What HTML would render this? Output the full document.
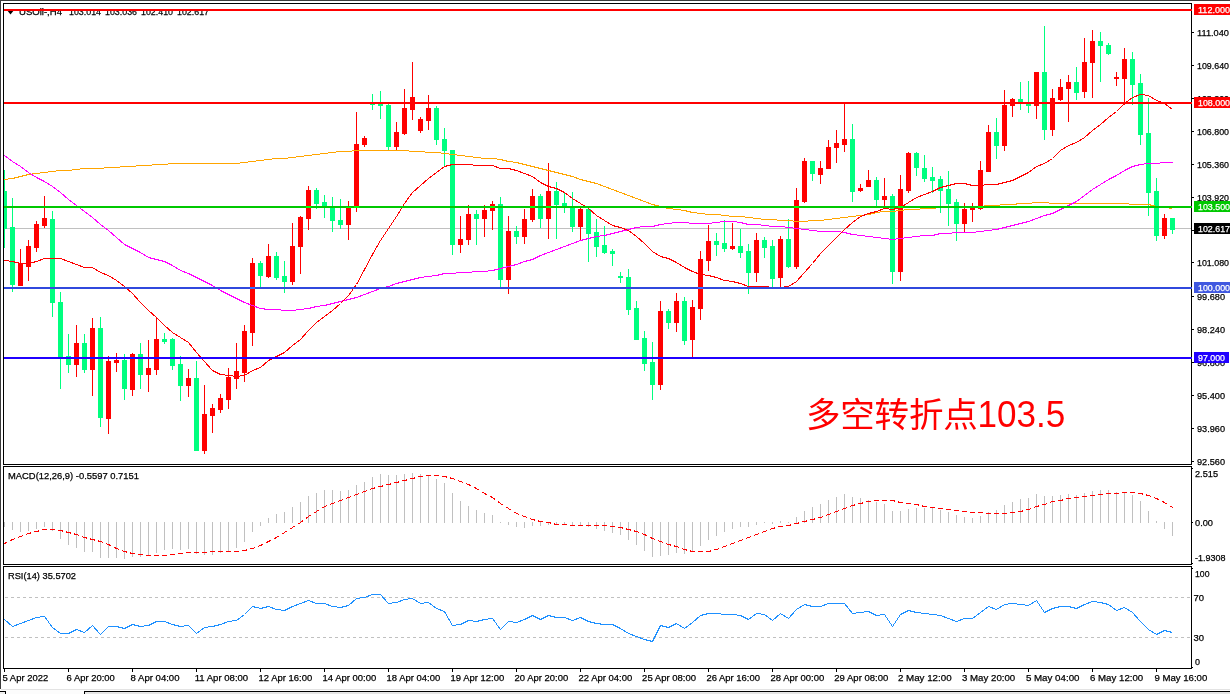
<!DOCTYPE html>
<html><head><meta charset="utf-8"><style>html,body{margin:0;padding:0;background:#fff;width:1230px;height:694px;overflow:hidden}svg{display:block}</style></head>
<body><svg width="1230" height="694" viewBox="0 0 1230 694">
<rect x="0" y="0" width="1230" height="694" fill="#ffffff"/>
<g shape-rendering="crispEdges">
<rect x="0" y="0" width="1230" height="1" fill="#3c3c3c"/>
<rect x="0" y="0" width="1" height="689" fill="#3c3c3c"/>
<rect x="3" y="3" width="1189" height="1" fill="#000"/>
<rect x="3" y="464" width="1189" height="1" fill="#000"/>
<rect x="3" y="3" width="1" height="462" fill="#000"/>
<rect x="1191" y="3" width="1" height="462" fill="#000"/>
<rect x="3" y="466" width="1189" height="1" fill="#000"/>
<rect x="3" y="564" width="1189" height="1" fill="#000"/>
<rect x="3" y="466" width="1" height="99" fill="#000"/>
<rect x="1191" y="466" width="1" height="99" fill="#000"/>
<rect x="3" y="566" width="1189" height="1" fill="#000"/>
<rect x="3" y="668" width="1189" height="1" fill="#000"/>
<rect x="3" y="566" width="1" height="103" fill="#000"/>
<rect x="1191" y="566" width="1" height="103" fill="#000"/>
<rect x="1" y="689" width="1229" height="1" fill="#e3e3e3"/>
<rect x="1" y="690" width="1229" height="4" fill="#fcfcfc"/>
<rect x="84" y="691" width="1146" height="1" fill="#000"/>
<rect x="84" y="691" width="1" height="3" fill="#000"/>
<rect x="85" y="692" width="1145" height="2" fill="#e6e6e6"/>
<rect x="0" y="691" width="6" height="3" fill="#f0f0f0"/>
<rect x="0" y="691" width="6" height="1" fill="#000"/>
<rect x="5" y="691" width="1" height="3" fill="#000"/>
</g>
<clipPath id="cm"><rect x="4" y="4" width="1188" height="460"/></clipPath>
<clipPath id="cmacd"><rect x="4" y="467" width="1187" height="97"/></clipPath>
<clipPath id="crsi"><rect x="4" y="567" width="1187" height="101"/></clipPath>
<g clip-path="url(#cm)" shape-rendering="crispEdges">
<rect x="4" y="228" width="1187" height="1" fill="#c0c0c0"/>
<rect x="4" y="170" width="1" height="78" fill="#00FF7F"/>
<rect x="2" y="191" width="5" height="38" fill="#00FF7F"/>
<rect x="12" y="198" width="1" height="94" fill="#00FF7F"/>
<rect x="10" y="227" width="5" height="58" fill="#00FF7F"/>
<rect x="20" y="249" width="1" height="37" fill="#FF0000"/>
<rect x="18" y="264" width="5" height="22" fill="#FF0000"/>
<rect x="28" y="240" width="1" height="41" fill="#FF0000"/>
<rect x="26" y="246" width="5" height="21" fill="#FF0000"/>
<rect x="36" y="221" width="1" height="31" fill="#FF0000"/>
<rect x="34" y="224" width="5" height="24" fill="#FF0000"/>
<rect x="44" y="196" width="1" height="32" fill="#FF0000"/>
<rect x="42" y="218" width="5" height="8" fill="#FF0000"/>
<rect x="52" y="211" width="1" height="106" fill="#00FF7F"/>
<rect x="50" y="219" width="5" height="84" fill="#00FF7F"/>
<rect x="60" y="292" width="1" height="97" fill="#00FF7F"/>
<rect x="58" y="302" width="5" height="57" fill="#00FF7F"/>
<rect x="68" y="334" width="1" height="39" fill="#00FF7F"/>
<rect x="66" y="356" width="5" height="9" fill="#00FF7F"/>
<rect x="76" y="325" width="1" height="52" fill="#FF0000"/>
<rect x="74" y="343" width="5" height="22" fill="#FF0000"/>
<rect x="84" y="334" width="1" height="39" fill="#00FF7F"/>
<rect x="82" y="343" width="5" height="27" fill="#00FF7F"/>
<rect x="92" y="318" width="1" height="78" fill="#FF0000"/>
<rect x="90" y="328" width="5" height="42" fill="#FF0000"/>
<rect x="100" y="317" width="1" height="110" fill="#00FF7F"/>
<rect x="98" y="328" width="5" height="90" fill="#00FF7F"/>
<rect x="108" y="356" width="1" height="78" fill="#FF0000"/>
<rect x="106" y="361" width="5" height="58" fill="#FF0000"/>
<rect x="116" y="353" width="1" height="19" fill="#FF0000"/>
<rect x="114" y="360" width="5" height="3" fill="#FF0000"/>
<rect x="124" y="354" width="1" height="46" fill="#00FF7F"/>
<rect x="122" y="360" width="5" height="29" fill="#00FF7F"/>
<rect x="132" y="353" width="1" height="43" fill="#FF0000"/>
<rect x="130" y="354" width="5" height="36" fill="#FF0000"/>
<rect x="140" y="343" width="1" height="46" fill="#00FF7F"/>
<rect x="138" y="354" width="5" height="21" fill="#00FF7F"/>
<rect x="148" y="340" width="1" height="52" fill="#FF0000"/>
<rect x="146" y="368" width="5" height="7" fill="#FF0000"/>
<rect x="156" y="318" width="1" height="57" fill="#FF0000"/>
<rect x="154" y="339" width="5" height="31" fill="#FF0000"/>
<rect x="164" y="333" width="1" height="11" fill="#00FF7F"/>
<rect x="162" y="339" width="5" height="3" fill="#00FF7F"/>
<rect x="172" y="338" width="1" height="32" fill="#00FF7F"/>
<rect x="170" y="339" width="5" height="27" fill="#00FF7F"/>
<rect x="180" y="356" width="1" height="45" fill="#00FF7F"/>
<rect x="178" y="364" width="5" height="22" fill="#00FF7F"/>
<rect x="188" y="369" width="1" height="28" fill="#FF0000"/>
<rect x="186" y="378" width="5" height="8" fill="#FF0000"/>
<rect x="196" y="361" width="1" height="90" fill="#00FF7F"/>
<rect x="194" y="378" width="5" height="73" fill="#00FF7F"/>
<rect x="204" y="385" width="1" height="69" fill="#FF0000"/>
<rect x="202" y="414" width="5" height="37" fill="#FF0000"/>
<rect x="212" y="404" width="1" height="29" fill="#FF0000"/>
<rect x="210" y="408" width="5" height="8" fill="#FF0000"/>
<rect x="220" y="394" width="1" height="19" fill="#FF0000"/>
<rect x="218" y="398" width="5" height="12" fill="#FF0000"/>
<rect x="228" y="368" width="1" height="41" fill="#FF0000"/>
<rect x="226" y="377" width="5" height="23" fill="#FF0000"/>
<rect x="236" y="343" width="1" height="46" fill="#FF0000"/>
<rect x="234" y="371" width="5" height="8" fill="#FF0000"/>
<rect x="244" y="325" width="1" height="57" fill="#FF0000"/>
<rect x="242" y="331" width="5" height="42" fill="#FF0000"/>
<rect x="252" y="258" width="1" height="88" fill="#FF0000"/>
<rect x="250" y="263" width="5" height="70" fill="#FF0000"/>
<rect x="260" y="261" width="1" height="27" fill="#00FF7F"/>
<rect x="258" y="263" width="5" height="13" fill="#00FF7F"/>
<rect x="268" y="244" width="1" height="34" fill="#FF0000"/>
<rect x="266" y="256" width="5" height="21" fill="#FF0000"/>
<rect x="276" y="252" width="1" height="28" fill="#00FF7F"/>
<rect x="274" y="256" width="5" height="22" fill="#00FF7F"/>
<rect x="284" y="261" width="1" height="32" fill="#00FF7F"/>
<rect x="282" y="276" width="5" height="6" fill="#00FF7F"/>
<rect x="292" y="223" width="1" height="62" fill="#FF0000"/>
<rect x="290" y="246" width="5" height="36" fill="#FF0000"/>
<rect x="300" y="216" width="1" height="58" fill="#FF0000"/>
<rect x="298" y="217" width="5" height="30" fill="#FF0000"/>
<rect x="308" y="186" width="1" height="44" fill="#FF0000"/>
<rect x="306" y="190" width="5" height="29" fill="#FF0000"/>
<rect x="316" y="188" width="1" height="21" fill="#00FF7F"/>
<rect x="314" y="190" width="5" height="14" fill="#00FF7F"/>
<rect x="324" y="195" width="1" height="23" fill="#00FF7F"/>
<rect x="322" y="202" width="5" height="5" fill="#00FF7F"/>
<rect x="332" y="197" width="1" height="35" fill="#00FF7F"/>
<rect x="330" y="206" width="5" height="15" fill="#00FF7F"/>
<rect x="340" y="199" width="1" height="30" fill="#00FF7F"/>
<rect x="338" y="220" width="5" height="5" fill="#00FF7F"/>
<rect x="348" y="201" width="1" height="39" fill="#FF0000"/>
<rect x="346" y="207" width="5" height="18" fill="#FF0000"/>
<rect x="356" y="112" width="1" height="100" fill="#FF0000"/>
<rect x="354" y="144" width="5" height="64" fill="#FF0000"/>
<rect x="364" y="136" width="1" height="11" fill="#FF0000"/>
<rect x="362" y="138" width="5" height="7" fill="#FF0000"/>
<rect x="372" y="94" width="1" height="16" fill="#00FF7F"/>
<rect x="370" y="103" width="5" height="2" fill="#00FF7F"/>
<rect x="380" y="91" width="1" height="28" fill="#00FF7F"/>
<rect x="378" y="103" width="5" height="3" fill="#00FF7F"/>
<rect x="388" y="104" width="1" height="47" fill="#00FF7F"/>
<rect x="386" y="105" width="5" height="42" fill="#00FF7F"/>
<rect x="396" y="122" width="1" height="29" fill="#FF0000"/>
<rect x="394" y="132" width="5" height="15" fill="#FF0000"/>
<rect x="404" y="89" width="1" height="46" fill="#FF0000"/>
<rect x="402" y="108" width="5" height="26" fill="#FF0000"/>
<rect x="412" y="62" width="1" height="58" fill="#FF0000"/>
<rect x="410" y="97" width="5" height="13" fill="#FF0000"/>
<rect x="420" y="117" width="1" height="16" fill="#FF0000"/>
<rect x="418" y="119" width="5" height="12" fill="#FF0000"/>
<rect x="428" y="95" width="1" height="35" fill="#FF0000"/>
<rect x="426" y="108" width="5" height="13" fill="#FF0000"/>
<rect x="436" y="106" width="1" height="39" fill="#00FF7F"/>
<rect x="434" y="108" width="5" height="32" fill="#00FF7F"/>
<rect x="444" y="128" width="1" height="38" fill="#00FF7F"/>
<rect x="442" y="139" width="5" height="12" fill="#00FF7F"/>
<rect x="452" y="150" width="1" height="105" fill="#00FF7F"/>
<rect x="450" y="150" width="5" height="95" fill="#00FF7F"/>
<rect x="460" y="216" width="1" height="37" fill="#FF0000"/>
<rect x="458" y="239" width="5" height="6" fill="#FF0000"/>
<rect x="468" y="205" width="1" height="40" fill="#FF0000"/>
<rect x="466" y="214" width="5" height="26" fill="#FF0000"/>
<rect x="476" y="210" width="1" height="35" fill="#00FF7F"/>
<rect x="474" y="214" width="5" height="5" fill="#00FF7F"/>
<rect x="484" y="205" width="1" height="32" fill="#FF0000"/>
<rect x="482" y="210" width="5" height="9" fill="#FF0000"/>
<rect x="492" y="201" width="1" height="29" fill="#FF0000"/>
<rect x="490" y="204" width="5" height="7" fill="#FF0000"/>
<rect x="500" y="197" width="1" height="91" fill="#00FF7F"/>
<rect x="498" y="204" width="5" height="76" fill="#00FF7F"/>
<rect x="508" y="216" width="1" height="78" fill="#FF0000"/>
<rect x="506" y="231" width="5" height="49" fill="#FF0000"/>
<rect x="516" y="226" width="1" height="18" fill="#00FF7F"/>
<rect x="514" y="231" width="5" height="6" fill="#00FF7F"/>
<rect x="524" y="209" width="1" height="35" fill="#FF0000"/>
<rect x="522" y="219" width="5" height="18" fill="#FF0000"/>
<rect x="532" y="189" width="1" height="33" fill="#FF0000"/>
<rect x="530" y="196" width="5" height="24" fill="#FF0000"/>
<rect x="540" y="194" width="1" height="34" fill="#00FF7F"/>
<rect x="538" y="196" width="5" height="23" fill="#00FF7F"/>
<rect x="548" y="163" width="1" height="76" fill="#FF0000"/>
<rect x="546" y="191" width="5" height="28" fill="#FF0000"/>
<rect x="556" y="182" width="1" height="57" fill="#00FF7F"/>
<rect x="554" y="191" width="5" height="14" fill="#00FF7F"/>
<rect x="564" y="192" width="1" height="21" fill="#00FF7F"/>
<rect x="562" y="203" width="5" height="4" fill="#00FF7F"/>
<rect x="572" y="192" width="1" height="40" fill="#00FF7F"/>
<rect x="570" y="206" width="5" height="21" fill="#00FF7F"/>
<rect x="580" y="208" width="1" height="33" fill="#FF0000"/>
<rect x="578" y="209" width="5" height="18" fill="#FF0000"/>
<rect x="588" y="208" width="1" height="54" fill="#00FF7F"/>
<rect x="586" y="209" width="5" height="25" fill="#00FF7F"/>
<rect x="596" y="219" width="1" height="38" fill="#00FF7F"/>
<rect x="594" y="232" width="5" height="15" fill="#00FF7F"/>
<rect x="604" y="226" width="1" height="28" fill="#00FF7F"/>
<rect x="602" y="245" width="5" height="8" fill="#00FF7F"/>
<rect x="612" y="249" width="1" height="17" fill="#00FF7F"/>
<rect x="610" y="251" width="5" height="3" fill="#00FF7F"/>
<rect x="620" y="272" width="1" height="11" fill="#00FF7F"/>
<rect x="618" y="276" width="5" height="2" fill="#00FF7F"/>
<rect x="628" y="269" width="1" height="46" fill="#00FF7F"/>
<rect x="626" y="277" width="5" height="33" fill="#00FF7F"/>
<rect x="636" y="301" width="1" height="39" fill="#00FF7F"/>
<rect x="634" y="308" width="5" height="32" fill="#00FF7F"/>
<rect x="644" y="331" width="1" height="40" fill="#00FF7F"/>
<rect x="642" y="338" width="5" height="26" fill="#00FF7F"/>
<rect x="652" y="342" width="1" height="58" fill="#00FF7F"/>
<rect x="650" y="362" width="5" height="23" fill="#00FF7F"/>
<rect x="660" y="301" width="1" height="89" fill="#FF0000"/>
<rect x="658" y="311" width="5" height="74" fill="#FF0000"/>
<rect x="668" y="309" width="1" height="20" fill="#00FF7F"/>
<rect x="666" y="311" width="5" height="12" fill="#00FF7F"/>
<rect x="676" y="293" width="1" height="39" fill="#FF0000"/>
<rect x="674" y="301" width="5" height="22" fill="#FF0000"/>
<rect x="684" y="297" width="1" height="48" fill="#00FF7F"/>
<rect x="682" y="301" width="5" height="40" fill="#00FF7F"/>
<rect x="692" y="300" width="1" height="58" fill="#FF0000"/>
<rect x="690" y="307" width="5" height="33" fill="#FF0000"/>
<rect x="700" y="251" width="1" height="69" fill="#FF0000"/>
<rect x="698" y="259" width="5" height="50" fill="#FF0000"/>
<rect x="708" y="225" width="1" height="46" fill="#FF0000"/>
<rect x="706" y="241" width="5" height="20" fill="#FF0000"/>
<rect x="716" y="233" width="1" height="23" fill="#00FF7F"/>
<rect x="714" y="241" width="5" height="4" fill="#00FF7F"/>
<rect x="724" y="220" width="1" height="32" fill="#00FF7F"/>
<rect x="722" y="243" width="5" height="6" fill="#00FF7F"/>
<rect x="732" y="223" width="1" height="27" fill="#FF0000"/>
<rect x="730" y="246" width="5" height="3" fill="#FF0000"/>
<rect x="740" y="229" width="1" height="29" fill="#00FF7F"/>
<rect x="738" y="246" width="5" height="7" fill="#00FF7F"/>
<rect x="748" y="244" width="1" height="50" fill="#00FF7F"/>
<rect x="746" y="251" width="5" height="22" fill="#00FF7F"/>
<rect x="756" y="233" width="1" height="49" fill="#FF0000"/>
<rect x="754" y="240" width="5" height="33" fill="#FF0000"/>
<rect x="764" y="237" width="1" height="21" fill="#00FF7F"/>
<rect x="762" y="240" width="5" height="8" fill="#00FF7F"/>
<rect x="772" y="240" width="1" height="47" fill="#00FF7F"/>
<rect x="770" y="246" width="5" height="33" fill="#00FF7F"/>
<rect x="780" y="236" width="1" height="51" fill="#FF0000"/>
<rect x="778" y="239" width="5" height="39" fill="#FF0000"/>
<rect x="788" y="219" width="1" height="49" fill="#00FF7F"/>
<rect x="786" y="239" width="5" height="28" fill="#00FF7F"/>
<rect x="796" y="188" width="1" height="81" fill="#FF0000"/>
<rect x="794" y="200" width="5" height="67" fill="#FF0000"/>
<rect x="804" y="158" width="1" height="45" fill="#FF0000"/>
<rect x="802" y="161" width="5" height="41" fill="#FF0000"/>
<rect x="812" y="161" width="1" height="20" fill="#00FF7F"/>
<rect x="810" y="161" width="5" height="13" fill="#00FF7F"/>
<rect x="820" y="161" width="1" height="23" fill="#FF0000"/>
<rect x="818" y="168" width="5" height="7" fill="#FF0000"/>
<rect x="828" y="140" width="1" height="29" fill="#FF0000"/>
<rect x="826" y="147" width="5" height="22" fill="#FF0000"/>
<rect x="836" y="130" width="1" height="33" fill="#FF0000"/>
<rect x="834" y="143" width="5" height="5" fill="#FF0000"/>
<rect x="844" y="103" width="1" height="49" fill="#FF0000"/>
<rect x="842" y="139" width="5" height="6" fill="#FF0000"/>
<rect x="852" y="124" width="1" height="78" fill="#00FF7F"/>
<rect x="850" y="139" width="5" height="53" fill="#00FF7F"/>
<rect x="860" y="184" width="1" height="8" fill="#FF0000"/>
<rect x="858" y="188" width="5" height="3" fill="#FF0000"/>
<rect x="868" y="170" width="1" height="17" fill="#FF0000"/>
<rect x="866" y="180" width="5" height="7" fill="#FF0000"/>
<rect x="876" y="177" width="1" height="30" fill="#00FF7F"/>
<rect x="874" y="180" width="5" height="20" fill="#00FF7F"/>
<rect x="884" y="178" width="1" height="31" fill="#FF0000"/>
<rect x="882" y="196" width="5" height="4" fill="#FF0000"/>
<rect x="892" y="194" width="1" height="90" fill="#00FF7F"/>
<rect x="890" y="196" width="5" height="76" fill="#00FF7F"/>
<rect x="900" y="175" width="1" height="106" fill="#FF0000"/>
<rect x="898" y="189" width="5" height="83" fill="#FF0000"/>
<rect x="908" y="152" width="1" height="41" fill="#FF0000"/>
<rect x="906" y="153" width="5" height="38" fill="#FF0000"/>
<rect x="916" y="152" width="1" height="24" fill="#00FF7F"/>
<rect x="914" y="153" width="5" height="15" fill="#00FF7F"/>
<rect x="924" y="155" width="1" height="27" fill="#00FF7F"/>
<rect x="922" y="168" width="5" height="11" fill="#00FF7F"/>
<rect x="932" y="167" width="1" height="26" fill="#00FF7F"/>
<rect x="930" y="177" width="5" height="4" fill="#00FF7F"/>
<rect x="940" y="176" width="1" height="37" fill="#00FF7F"/>
<rect x="938" y="179" width="5" height="12" fill="#00FF7F"/>
<rect x="948" y="171" width="1" height="55" fill="#00FF7F"/>
<rect x="946" y="189" width="5" height="15" fill="#00FF7F"/>
<rect x="956" y="199" width="1" height="42" fill="#00FF7F"/>
<rect x="954" y="202" width="5" height="22" fill="#00FF7F"/>
<rect x="964" y="203" width="1" height="30" fill="#FF0000"/>
<rect x="962" y="209" width="5" height="15" fill="#FF0000"/>
<rect x="972" y="203" width="1" height="19" fill="#FF0000"/>
<rect x="970" y="208" width="5" height="2" fill="#FF0000"/>
<rect x="980" y="161" width="1" height="49" fill="#FF0000"/>
<rect x="978" y="170" width="5" height="39" fill="#FF0000"/>
<rect x="988" y="125" width="1" height="47" fill="#FF0000"/>
<rect x="986" y="132" width="5" height="40" fill="#FF0000"/>
<rect x="996" y="118" width="1" height="41" fill="#00FF7F"/>
<rect x="994" y="132" width="5" height="14" fill="#00FF7F"/>
<rect x="1004" y="90" width="1" height="61" fill="#FF0000"/>
<rect x="1002" y="105" width="5" height="41" fill="#FF0000"/>
<rect x="1012" y="98" width="1" height="19" fill="#FF0000"/>
<rect x="1010" y="99" width="5" height="7" fill="#FF0000"/>
<rect x="1020" y="82" width="1" height="28" fill="#00FF7F"/>
<rect x="1018" y="99" width="5" height="3" fill="#00FF7F"/>
<rect x="1028" y="81" width="1" height="32" fill="#00FF7F"/>
<rect x="1026" y="104" width="5" height="2" fill="#00FF7F"/>
<rect x="1036" y="72" width="1" height="47" fill="#FF0000"/>
<rect x="1034" y="72" width="5" height="34" fill="#FF0000"/>
<rect x="1044" y="26" width="1" height="114" fill="#00FF7F"/>
<rect x="1042" y="72" width="5" height="58" fill="#00FF7F"/>
<rect x="1052" y="89" width="1" height="47" fill="#FF0000"/>
<rect x="1050" y="98" width="5" height="32" fill="#FF0000"/>
<rect x="1060" y="79" width="1" height="22" fill="#FF0000"/>
<rect x="1058" y="87" width="5" height="13" fill="#FF0000"/>
<rect x="1068" y="75" width="1" height="47" fill="#FF0000"/>
<rect x="1066" y="82" width="5" height="7" fill="#FF0000"/>
<rect x="1076" y="67" width="1" height="33" fill="#00FF7F"/>
<rect x="1074" y="82" width="5" height="11" fill="#00FF7F"/>
<rect x="1084" y="38" width="1" height="60" fill="#FF0000"/>
<rect x="1082" y="62" width="5" height="30" fill="#FF0000"/>
<rect x="1092" y="30" width="1" height="68" fill="#FF0000"/>
<rect x="1090" y="41" width="5" height="22" fill="#FF0000"/>
<rect x="1100" y="32" width="1" height="50" fill="#00FF7F"/>
<rect x="1098" y="41" width="5" height="5" fill="#00FF7F"/>
<rect x="1108" y="43" width="1" height="12" fill="#00FF7F"/>
<rect x="1106" y="45" width="5" height="9" fill="#00FF7F"/>
<rect x="1116" y="72" width="1" height="14" fill="#FF0000"/>
<rect x="1114" y="77" width="5" height="2" fill="#FF0000"/>
<rect x="1124" y="48" width="1" height="57" fill="#FF0000"/>
<rect x="1122" y="59" width="5" height="20" fill="#FF0000"/>
<rect x="1132" y="52" width="1" height="53" fill="#00FF7F"/>
<rect x="1130" y="59" width="5" height="26" fill="#00FF7F"/>
<rect x="1140" y="74" width="1" height="71" fill="#00FF7F"/>
<rect x="1138" y="83" width="5" height="52" fill="#00FF7F"/>
<rect x="1148" y="98" width="1" height="118" fill="#00FF7F"/>
<rect x="1146" y="133" width="5" height="60" fill="#00FF7F"/>
<rect x="1156" y="178" width="1" height="63" fill="#00FF7F"/>
<rect x="1154" y="191" width="5" height="45" fill="#00FF7F"/>
<rect x="1164" y="214" width="1" height="25" fill="#FF0000"/>
<rect x="1162" y="218" width="5" height="18" fill="#FF0000"/>
<rect x="1172" y="218" width="1" height="16" fill="#00FF7F"/>
<rect x="1170" y="218" width="5" height="12" fill="#00FF7F"/>
<polyline points="4.5,179.5 12.5,178.5 20.5,176.5 28.5,174.5 36.5,173.5 44.5,172.5 52.5,171.5 60.5,170.5 68.5,170.5 76.5,169.5 84.5,168.5 92.5,168.5 100.5,168.5 108.5,167.5 116.5,167.5 124.5,166.5 132.5,166.5 140.5,165.5 148.5,165.5 156.5,164.5 164.5,164.5 172.5,163.5 180.5,163.5 188.5,163.5 196.5,163.5 204.5,163.5 212.5,163.5 220.5,163.5 228.5,163.5 236.5,163.5 244.5,162.5 252.5,161.5 260.5,160.5 268.5,159.5 276.5,158.5 284.5,158.5 292.5,157.5 300.5,156.5 308.5,155.5 316.5,154.5 324.5,153.5 332.5,152.5 340.5,151.5 348.5,151.5 356.5,150.5 364.5,150.5 372.5,150.5 380.5,150.5 388.5,150.5 396.5,150.5 404.5,150.5 412.5,151.5 420.5,151.5 428.5,152.5 436.5,152.5 444.5,153.5 452.5,154.5 460.5,155.5 468.5,156.5 476.5,157.5 484.5,158.5 492.5,158.5 500.5,159.5 508.5,161.5 516.5,162.5 524.5,164.5 532.5,166.5 540.5,168.5 548.5,170.5 556.5,172.5 564.5,174.5 572.5,176.5 580.5,179.5 588.5,181.5 596.5,183.5 604.5,186.5 612.5,189.5 620.5,192.5 628.5,195.5 636.5,198.5 644.5,201.5 652.5,204.5 660.5,206.5 668.5,208.5 676.5,209.5 684.5,210.5 692.5,212.5 700.5,213.5 708.5,214.5 716.5,214.5 724.5,215.5 732.5,216.5 740.5,216.5 748.5,217.5 756.5,218.5 764.5,219.5 772.5,219.5 780.5,220.5 788.5,220.5 796.5,221.5 804.5,221.5 812.5,220.5 820.5,220.5 828.5,219.5 836.5,218.5 844.5,217.5 852.5,216.5 860.5,215.5 868.5,214.5 876.5,212.5 884.5,211.5 892.5,211.5 900.5,210.5 908.5,209.5 916.5,209.5 924.5,208.5 932.5,208.5 940.5,207.5 948.5,207.5 956.5,206.5 964.5,206.5 972.5,206.5 980.5,206.5 988.5,205.5 996.5,205.5 1004.5,204.5 1012.5,204.5 1020.5,203.5 1028.5,203.5 1036.5,202.5 1044.5,202.5 1052.5,203.5 1060.5,203.5 1068.5,203.5 1076.5,203.5 1084.5,203.5 1092.5,203.5 1100.5,203.5 1108.5,203.5 1116.5,203.5 1124.5,203.5 1132.5,204.5 1140.5,204.5 1148.5,204.5 1156.5,206.5 1164.5,207.5 1172.5,208.5" fill="none" stroke="#FFA500" stroke-width="1"/>
<polyline points="4.5,155.5 12.5,161.5 20.5,166.5 28.5,172.5 36.5,177.5 44.5,181.5 52.5,186.5 60.5,192.5 68.5,199.5 76.5,205.5 84.5,211.5 92.5,217.5 100.5,224.5 108.5,230.5 116.5,237.5 124.5,244.5 132.5,248.5 140.5,252.5 148.5,257.5 156.5,259.5 164.5,261.5 172.5,265.5 180.5,270.5 188.5,273.5 196.5,277.5 204.5,281.5 212.5,285.5 220.5,290.5 228.5,294.5 236.5,298.5 244.5,302.5 252.5,305.5 260.5,308.5 268.5,309.5 276.5,309.5 284.5,310.5 292.5,310.5 300.5,309.5 308.5,308.5 316.5,306.5 324.5,305.5 332.5,303.5 340.5,301.5 348.5,299.5 356.5,297.5 364.5,294.5 372.5,291.5 380.5,288.5 388.5,286.5 396.5,283.5 404.5,281.5 412.5,279.5 420.5,277.5 428.5,276.5 436.5,275.5 444.5,273.5 452.5,273.5 460.5,272.5 468.5,272.5 476.5,271.5 484.5,271.5 492.5,270.5 500.5,268.5 508.5,266.5 516.5,264.5 524.5,261.5 532.5,259.5 540.5,255.5 548.5,252.5 556.5,249.5 564.5,246.5 572.5,243.5 580.5,240.5 588.5,238.5 596.5,236.5 604.5,235.5 612.5,233.5 620.5,231.5 628.5,229.5 636.5,227.5 644.5,226.5 652.5,226.5 660.5,224.5 668.5,223.5 676.5,222.5 684.5,222.5 692.5,223.5 700.5,223.5 708.5,223.5 716.5,222.5 724.5,221.5 732.5,221.5 740.5,222.5 748.5,224.5 756.5,224.5 764.5,225.5 772.5,226.5 780.5,226.5 788.5,227.5 796.5,228.5 804.5,229.5 812.5,230.5 820.5,231.5 828.5,231.5 836.5,231.5 844.5,232.5 852.5,234.5 860.5,235.5 868.5,236.5 876.5,237.5 884.5,238.5 892.5,239.5 900.5,238.5 908.5,237.5 916.5,236.5 924.5,235.5 932.5,235.5 940.5,233.5 948.5,233.5 956.5,232.5 964.5,232.5 972.5,232.5 980.5,231.5 988.5,230.5 996.5,229.5 1004.5,227.5 1012.5,225.5 1020.5,223.5 1028.5,221.5 1036.5,218.5 1044.5,215.5 1052.5,213.5 1060.5,209.5 1068.5,205.5 1076.5,201.5 1084.5,195.5 1092.5,189.5 1100.5,184.5 1108.5,179.5 1116.5,175.5 1124.5,170.5 1132.5,166.5 1140.5,164.5 1148.5,163.5 1156.5,163.5 1164.5,162.5 1172.5,162.5" fill="none" stroke="#FF00FF" stroke-width="1"/>
<polyline points="4.5,260.5 12.5,261.5 20.5,263.5 28.5,263.5 36.5,261.5 44.5,258.5 52.5,258.5 60.5,258.5 68.5,261.5 76.5,264.5 84.5,267.5 92.5,267.5 100.5,272.5 108.5,275.5 116.5,280.5 124.5,286.5 132.5,293.5 140.5,302.5 148.5,310.5 156.5,317.5 164.5,325.5 172.5,332.5 180.5,337.5 188.5,342.5 196.5,352.5 204.5,361.5 212.5,370.5 220.5,374.5 228.5,375.5 236.5,376.5 244.5,375.5 252.5,370.5 260.5,367.5 268.5,360.5 276.5,356.5 284.5,352.5 292.5,345.5 300.5,339.5 308.5,330.5 316.5,322.5 324.5,316.5 332.5,310.5 340.5,303.5 348.5,295.5 356.5,284.5 364.5,269.5 372.5,254.5 380.5,240.5 388.5,228.5 396.5,216.5 404.5,203.5 412.5,192.5 420.5,185.5 428.5,178.5 436.5,172.5 444.5,166.5 452.5,164.5 460.5,164.5 468.5,164.5 476.5,165.5 484.5,165.5 492.5,165.5 500.5,168.5 508.5,168.5 516.5,170.5 524.5,173.5 532.5,176.5 540.5,182.5 548.5,186.5 556.5,188.5 564.5,192.5 572.5,198.5 580.5,203.5 588.5,208.5 596.5,215.5 604.5,220.5 612.5,225.5 620.5,227.5 628.5,230.5 636.5,236.5 644.5,243.5 652.5,251.5 660.5,256.5 668.5,258.5 676.5,262.5 684.5,267.5 692.5,271.5 700.5,274.5 708.5,275.5 716.5,277.5 724.5,280.5 732.5,281.5 740.5,283.5 748.5,286.5 756.5,286.5 764.5,286.5 772.5,287.5 780.5,287.5 788.5,286.5 796.5,281.5 804.5,272.5 812.5,263.5 820.5,253.5 828.5,245.5 836.5,237.5 844.5,229.5 852.5,222.5 860.5,216.5 868.5,213.5 876.5,211.5 884.5,208.5 892.5,209.5 900.5,207.5 908.5,202.5 916.5,197.5 924.5,194.5 932.5,191.5 940.5,187.5 948.5,185.5 956.5,183.5 964.5,183.5 972.5,185.5 980.5,185.5 988.5,184.5 996.5,184.5 1004.5,182.5 1012.5,180.5 1020.5,176.5 1028.5,172.5 1036.5,166.5 1044.5,163.5 1052.5,158.5 1060.5,150.5 1068.5,145.5 1076.5,142.5 1084.5,137.5 1092.5,130.5 1100.5,124.5 1108.5,117.5 1116.5,111.5 1124.5,103.5 1132.5,97.5 1140.5,94.5 1148.5,95.5 1156.5,100.5 1164.5,103.5 1172.5,109.5" fill="none" stroke="#FF0000" stroke-width="1"/>
<rect x="4" y="9" width="1188" height="2" fill="#FF0000"/>
<rect x="4" y="102" width="1188" height="2" fill="#FF0000"/>
<rect x="4" y="206" width="1188" height="2" fill="#00C800"/>
<rect x="4" y="287" width="1188" height="2" fill="#3048DD"/>
<rect x="4" y="357" width="1188" height="2" fill="#2000FF"/>
<rect x="250" y="287" width="5" height="1" fill="#3366FF"/>
<rect x="250" y="288" width="5" height="1" fill="#3366FF"/>
<rect x="306" y="206" width="5" height="1" fill="#00FF00"/>
<rect x="306" y="207" width="5" height="1" fill="#00FF00"/>
<rect x="346" y="207" width="5" height="1" fill="#00FF00"/>
<rect x="354" y="206" width="5" height="1" fill="#00FF00"/>
<rect x="354" y="207" width="5" height="1" fill="#00FF00"/>
<rect x="490" y="206" width="5" height="1" fill="#00FF00"/>
<rect x="490" y="207" width="5" height="1" fill="#00FF00"/>
<rect x="530" y="206" width="5" height="1" fill="#00FF00"/>
<rect x="530" y="207" width="5" height="1" fill="#00FF00"/>
<rect x="546" y="206" width="5" height="1" fill="#00FF00"/>
<rect x="546" y="207" width="5" height="1" fill="#00FF00"/>
<rect x="698" y="287" width="5" height="1" fill="#3366FF"/>
<rect x="698" y="288" width="5" height="1" fill="#3366FF"/>
<rect x="794" y="206" width="5" height="1" fill="#00FF00"/>
<rect x="794" y="207" width="5" height="1" fill="#00FF00"/>
<rect x="898" y="206" width="5" height="1" fill="#00FF00"/>
<rect x="898" y="207" width="5" height="1" fill="#00FF00"/>
<rect x="978" y="206" width="5" height="1" fill="#00FF00"/>
<rect x="978" y="207" width="5" height="1" fill="#00FF00"/>
</g>
<g clip-path="url(#cmacd)" shape-rendering="crispEdges">
<rect x="4" y="522" width="1" height="5" fill="#c0c0c0"/>
<rect x="12" y="522" width="1" height="8" fill="#c0c0c0"/>
<rect x="20" y="522" width="1" height="10" fill="#c0c0c0"/>
<rect x="28" y="522" width="1" height="9" fill="#c0c0c0"/>
<rect x="36" y="522" width="1" height="7" fill="#c0c0c0"/>
<rect x="44" y="522" width="1" height="5" fill="#c0c0c0"/>
<rect x="52" y="522" width="1" height="9" fill="#c0c0c0"/>
<rect x="60" y="522" width="1" height="17" fill="#c0c0c0"/>
<rect x="68" y="522" width="1" height="23" fill="#c0c0c0"/>
<rect x="76" y="522" width="1" height="26" fill="#c0c0c0"/>
<rect x="84" y="522" width="1" height="30" fill="#c0c0c0"/>
<rect x="92" y="522" width="1" height="30" fill="#c0c0c0"/>
<rect x="100" y="522" width="1" height="36" fill="#c0c0c0"/>
<rect x="108" y="522" width="1" height="36" fill="#c0c0c0"/>
<rect x="116" y="522" width="1" height="36" fill="#c0c0c0"/>
<rect x="124" y="522" width="1" height="37" fill="#c0c0c0"/>
<rect x="132" y="522" width="1" height="35" fill="#c0c0c0"/>
<rect x="140" y="522" width="1" height="35" fill="#c0c0c0"/>
<rect x="148" y="522" width="1" height="34" fill="#c0c0c0"/>
<rect x="156" y="522" width="1" height="31" fill="#c0c0c0"/>
<rect x="164" y="522" width="1" height="28" fill="#c0c0c0"/>
<rect x="172" y="522" width="1" height="27" fill="#c0c0c0"/>
<rect x="180" y="522" width="1" height="28" fill="#c0c0c0"/>
<rect x="188" y="522" width="1" height="27" fill="#c0c0c0"/>
<rect x="196" y="522" width="1" height="32" fill="#c0c0c0"/>
<rect x="204" y="522" width="1" height="33" fill="#c0c0c0"/>
<rect x="212" y="522" width="1" height="33" fill="#c0c0c0"/>
<rect x="220" y="522" width="1" height="31" fill="#c0c0c0"/>
<rect x="228" y="522" width="1" height="29" fill="#c0c0c0"/>
<rect x="236" y="522" width="1" height="26" fill="#c0c0c0"/>
<rect x="244" y="522" width="1" height="20" fill="#c0c0c0"/>
<rect x="252" y="522" width="1" height="10" fill="#c0c0c0"/>
<rect x="260" y="522" width="1" height="4" fill="#c0c0c0"/>
<rect x="268" y="518" width="1" height="5" fill="#c0c0c0"/>
<rect x="276" y="514" width="1" height="9" fill="#c0c0c0"/>
<rect x="284" y="512" width="1" height="11" fill="#c0c0c0"/>
<rect x="292" y="507" width="1" height="16" fill="#c0c0c0"/>
<rect x="300" y="502" width="1" height="21" fill="#c0c0c0"/>
<rect x="308" y="496" width="1" height="27" fill="#c0c0c0"/>
<rect x="316" y="493" width="1" height="30" fill="#c0c0c0"/>
<rect x="324" y="490" width="1" height="33" fill="#c0c0c0"/>
<rect x="332" y="490" width="1" height="33" fill="#c0c0c0"/>
<rect x="340" y="491" width="1" height="32" fill="#c0c0c0"/>
<rect x="348" y="490" width="1" height="33" fill="#c0c0c0"/>
<rect x="356" y="485" width="1" height="38" fill="#c0c0c0"/>
<rect x="364" y="482" width="1" height="41" fill="#c0c0c0"/>
<rect x="372" y="477" width="1" height="46" fill="#c0c0c0"/>
<rect x="380" y="474" width="1" height="49" fill="#c0c0c0"/>
<rect x="388" y="475" width="1" height="48" fill="#c0c0c0"/>
<rect x="396" y="475" width="1" height="48" fill="#c0c0c0"/>
<rect x="404" y="474" width="1" height="49" fill="#c0c0c0"/>
<rect x="412" y="473" width="1" height="50" fill="#c0c0c0"/>
<rect x="420" y="474" width="1" height="49" fill="#c0c0c0"/>
<rect x="428" y="475" width="1" height="48" fill="#c0c0c0"/>
<rect x="436" y="479" width="1" height="44" fill="#c0c0c0"/>
<rect x="444" y="483" width="1" height="40" fill="#c0c0c0"/>
<rect x="452" y="493" width="1" height="30" fill="#c0c0c0"/>
<rect x="460" y="501" width="1" height="22" fill="#c0c0c0"/>
<rect x="468" y="506" width="1" height="17" fill="#c0c0c0"/>
<rect x="476" y="510" width="1" height="13" fill="#c0c0c0"/>
<rect x="484" y="513" width="1" height="10" fill="#c0c0c0"/>
<rect x="492" y="515" width="1" height="8" fill="#c0c0c0"/>
<rect x="500" y="522" width="1" height="1" fill="#c0c0c0"/>
<rect x="508" y="522" width="1" height="3" fill="#c0c0c0"/>
<rect x="516" y="522" width="1" height="5" fill="#c0c0c0"/>
<rect x="524" y="522" width="1" height="6" fill="#c0c0c0"/>
<rect x="532" y="522" width="1" height="4" fill="#c0c0c0"/>
<rect x="540" y="522" width="1" height="4" fill="#c0c0c0"/>
<rect x="548" y="522" width="1" height="3" fill="#c0c0c0"/>
<rect x="556" y="522" width="1" height="2" fill="#c0c0c0"/>
<rect x="564" y="522" width="1" height="2" fill="#c0c0c0"/>
<rect x="572" y="522" width="1" height="3" fill="#c0c0c0"/>
<rect x="580" y="522" width="1" height="3" fill="#c0c0c0"/>
<rect x="588" y="522" width="1" height="5" fill="#c0c0c0"/>
<rect x="596" y="522" width="1" height="7" fill="#c0c0c0"/>
<rect x="604" y="522" width="1" height="9" fill="#c0c0c0"/>
<rect x="612" y="522" width="1" height="11" fill="#c0c0c0"/>
<rect x="620" y="522" width="1" height="13" fill="#c0c0c0"/>
<rect x="628" y="522" width="1" height="18" fill="#c0c0c0"/>
<rect x="636" y="522" width="1" height="23" fill="#c0c0c0"/>
<rect x="644" y="522" width="1" height="29" fill="#c0c0c0"/>
<rect x="652" y="522" width="1" height="35" fill="#c0c0c0"/>
<rect x="660" y="522" width="1" height="34" fill="#c0c0c0"/>
<rect x="668" y="522" width="1" height="33" fill="#c0c0c0"/>
<rect x="676" y="522" width="1" height="31" fill="#c0c0c0"/>
<rect x="684" y="522" width="1" height="32" fill="#c0c0c0"/>
<rect x="692" y="522" width="1" height="30" fill="#c0c0c0"/>
<rect x="700" y="522" width="1" height="24" fill="#c0c0c0"/>
<rect x="708" y="522" width="1" height="18" fill="#c0c0c0"/>
<rect x="716" y="522" width="1" height="14" fill="#c0c0c0"/>
<rect x="724" y="522" width="1" height="10" fill="#c0c0c0"/>
<rect x="732" y="522" width="1" height="7" fill="#c0c0c0"/>
<rect x="740" y="522" width="1" height="5" fill="#c0c0c0"/>
<rect x="748" y="522" width="1" height="5" fill="#c0c0c0"/>
<rect x="756" y="522" width="1" height="3" fill="#c0c0c0"/>
<rect x="764" y="522" width="1" height="1" fill="#c0c0c0"/>
<rect x="772" y="522" width="1" height="2" fill="#c0c0c0"/>
<rect x="780" y="521" width="1" height="2" fill="#c0c0c0"/>
<rect x="788" y="522" width="1" height="1" fill="#c0c0c0"/>
<rect x="796" y="517" width="1" height="6" fill="#c0c0c0"/>
<rect x="804" y="511" width="1" height="12" fill="#c0c0c0"/>
<rect x="812" y="507" width="1" height="16" fill="#c0c0c0"/>
<rect x="820" y="504" width="1" height="19" fill="#c0c0c0"/>
<rect x="828" y="500" width="1" height="23" fill="#c0c0c0"/>
<rect x="836" y="497" width="1" height="26" fill="#c0c0c0"/>
<rect x="844" y="494" width="1" height="29" fill="#c0c0c0"/>
<rect x="852" y="497" width="1" height="26" fill="#c0c0c0"/>
<rect x="860" y="498" width="1" height="25" fill="#c0c0c0"/>
<rect x="868" y="500" width="1" height="23" fill="#c0c0c0"/>
<rect x="876" y="502" width="1" height="21" fill="#c0c0c0"/>
<rect x="884" y="504" width="1" height="19" fill="#c0c0c0"/>
<rect x="892" y="511" width="1" height="12" fill="#c0c0c0"/>
<rect x="900" y="511" width="1" height="12" fill="#c0c0c0"/>
<rect x="908" y="509" width="1" height="14" fill="#c0c0c0"/>
<rect x="916" y="508" width="1" height="15" fill="#c0c0c0"/>
<rect x="924" y="508" width="1" height="15" fill="#c0c0c0"/>
<rect x="932" y="508" width="1" height="15" fill="#c0c0c0"/>
<rect x="940" y="510" width="1" height="13" fill="#c0c0c0"/>
<rect x="948" y="512" width="1" height="11" fill="#c0c0c0"/>
<rect x="956" y="515" width="1" height="8" fill="#c0c0c0"/>
<rect x="964" y="517" width="1" height="6" fill="#c0c0c0"/>
<rect x="972" y="518" width="1" height="5" fill="#c0c0c0"/>
<rect x="980" y="516" width="1" height="7" fill="#c0c0c0"/>
<rect x="988" y="512" width="1" height="11" fill="#c0c0c0"/>
<rect x="996" y="510" width="1" height="13" fill="#c0c0c0"/>
<rect x="1004" y="505" width="1" height="18" fill="#c0c0c0"/>
<rect x="1012" y="502" width="1" height="21" fill="#c0c0c0"/>
<rect x="1020" y="499" width="1" height="24" fill="#c0c0c0"/>
<rect x="1028" y="498" width="1" height="25" fill="#c0c0c0"/>
<rect x="1036" y="494" width="1" height="29" fill="#c0c0c0"/>
<rect x="1044" y="496" width="1" height="27" fill="#c0c0c0"/>
<rect x="1052" y="496" width="1" height="27" fill="#c0c0c0"/>
<rect x="1060" y="495" width="1" height="28" fill="#c0c0c0"/>
<rect x="1068" y="494" width="1" height="29" fill="#c0c0c0"/>
<rect x="1076" y="495" width="1" height="28" fill="#c0c0c0"/>
<rect x="1084" y="493" width="1" height="30" fill="#c0c0c0"/>
<rect x="1092" y="491" width="1" height="32" fill="#c0c0c0"/>
<rect x="1100" y="490" width="1" height="33" fill="#c0c0c0"/>
<rect x="1108" y="490" width="1" height="33" fill="#c0c0c0"/>
<rect x="1116" y="492" width="1" height="31" fill="#c0c0c0"/>
<rect x="1124" y="493" width="1" height="30" fill="#c0c0c0"/>
<rect x="1132" y="495" width="1" height="28" fill="#c0c0c0"/>
<rect x="1140" y="501" width="1" height="22" fill="#c0c0c0"/>
<rect x="1148" y="511" width="1" height="12" fill="#c0c0c0"/>
<rect x="1156" y="521" width="1" height="2" fill="#c0c0c0"/>
<rect x="1164" y="522" width="1" height="7" fill="#c0c0c0"/>
<rect x="1172" y="522" width="1" height="14" fill="#c0c0c0"/>
<path d="M2.0,543.50L4.5,543.50L7.0,542.25M10.0,540.75L12.5,539.50L15.0,538.56M18.0,537.44L20.5,536.50L23.0,535.56M26.0,534.44L28.5,533.50L31.0,532.88M34.0,532.12L36.5,531.50L39.0,530.88M42.0,530.12L44.5,529.50L47.0,529.50M50.0,529.50L52.5,529.50L55.0,529.81M58.0,530.19L60.5,530.50L63.0,531.12M66.0,531.88L68.5,532.50L71.0,533.12M74.0,533.88L76.5,534.50L79.0,535.44M82.0,536.56L84.5,537.50L87.0,538.12M90.0,538.88L92.5,539.50L95.0,540.12M98.0,540.88L100.5,541.50L103.0,542.44M106.0,543.56L108.5,544.50L111.0,545.75M114.0,547.25L116.5,548.50L119.0,549.44M122.0,550.56L124.5,551.50L127.0,552.12M130.0,552.88L132.5,553.50L135.0,553.81M138.0,554.19L140.5,554.50L143.0,554.81M146.0,555.19L148.5,555.50L151.0,555.50M154.0,555.50L156.5,555.50L159.0,555.50M162.0,555.50L164.5,555.50L167.0,555.19M170.0,554.81L172.5,554.50L175.0,554.19M178.0,553.81L180.5,553.50L183.0,553.19M186.0,552.81L188.5,552.50L191.0,552.50M194.0,552.50L196.5,552.50L199.0,552.50M202.0,552.50L204.5,552.50L207.0,552.19M210.0,551.81L212.5,551.50L215.0,551.50M218.0,551.50L220.5,551.50L223.0,551.50M226.0,551.50L228.5,551.50L231.0,551.50M234.0,551.50L236.5,551.50L239.0,551.19M242.0,550.81L244.5,550.50L247.0,549.88M250.0,549.12L252.5,548.50L255.0,547.56M258.0,546.44L260.5,545.50L263.0,544.25M266.0,542.75L268.5,541.50L271.0,540.25M274.0,538.75L276.5,537.50L279.0,535.94M282.0,534.06L284.5,532.50L287.0,530.94M290.0,529.06L292.5,527.50L295.0,525.94M298.0,524.06L300.5,522.50L303.0,520.62M306.0,518.38L308.5,516.50L311.0,514.94M314.0,513.06L316.5,511.50L319.0,509.94M322.0,508.06L324.5,506.50L327.0,505.56M330.0,504.44L332.5,503.50L335.0,502.56M338.0,501.44L340.5,500.50L343.0,499.56M346.0,498.44L348.5,497.50L351.0,496.56M354.0,495.44L356.5,494.50L359.0,493.56M362.0,492.44L364.5,491.50L367.0,490.56M370.0,489.44L372.5,488.50L375.0,487.88M378.0,487.12L380.5,486.50L383.0,485.88M386.0,485.12L388.5,484.50L391.0,483.88M394.0,483.12L396.5,482.50L399.0,481.88M402.0,481.12L404.5,480.50L407.0,479.88M410.0,479.12L412.5,478.50L415.0,477.88M418.0,477.12L420.5,476.50L423.0,476.19M426.0,475.81L428.5,475.50L431.0,475.50M434.0,475.50L436.5,475.50L439.0,475.81M442.0,476.19L444.5,476.50L447.0,477.12M450.0,477.88L452.5,478.50L455.0,479.44M458.0,480.56L460.5,481.50L463.0,482.44M466.0,483.56L468.5,484.50L471.0,485.75M474.0,487.25L476.5,488.50L479.0,490.06M482.0,491.94L484.5,493.50L487.0,494.75M490.0,496.25L492.5,497.50L495.0,499.38M498.0,501.62L500.5,503.50L503.0,505.06M506.0,506.94L508.5,508.50L511.0,510.06M514.0,511.94L516.5,513.50L519.0,514.44M522.0,515.56L524.5,516.50L527.0,517.44M530.0,518.56L532.5,519.50L535.0,520.12M538.0,520.88L540.5,521.50L543.0,521.81M546.0,522.19L548.5,522.50L551.0,523.12M554.0,523.88L556.5,524.50L559.0,524.50M562.0,524.50L564.5,524.50L567.0,524.81M570.0,525.19L572.5,525.50L575.0,525.50M578.0,525.50L580.5,525.50L583.0,525.50M586.0,525.50L588.5,525.50L591.0,525.50M594.0,525.50L596.5,525.50L599.0,525.50M602.0,525.50L604.5,525.50L607.0,525.81M610.0,526.19L612.5,526.50L615.0,526.81M618.0,527.19L620.5,527.50L623.0,528.12M626.0,528.88L628.5,529.50L631.0,530.12M634.0,530.88L636.5,531.50L639.0,532.44M642.0,533.56L644.5,534.50L647.0,535.75M650.0,537.25L652.5,538.50L655.0,539.44M658.0,540.56L660.5,541.50L663.0,542.44M666.0,543.56L668.5,544.50L671.0,545.12M674.0,545.88L676.5,546.50L679.0,547.44M682.0,548.56L684.5,549.50L687.0,550.12M690.0,550.88L692.5,551.50L695.0,551.50M698.0,551.50L700.5,551.50L703.0,551.50M706.0,551.50L708.5,551.50L711.0,550.88M714.0,550.12L716.5,549.50L719.0,548.56M722.0,547.44L724.5,546.50L727.0,545.56M730.0,544.44L732.5,543.50L735.0,542.56M738.0,541.44L740.5,540.50L743.0,539.56M746.0,538.44L748.5,537.50L751.0,536.56M754.0,535.44L756.5,534.50L759.0,533.56M762.0,532.44L764.5,531.50L767.0,530.56M770.0,529.44L772.5,528.50L775.0,527.88M778.0,527.12L780.5,526.50L783.0,526.19M786.0,525.81L788.5,525.50L791.0,524.88M794.0,524.12L796.5,523.50L799.0,522.88M802.0,522.12L804.5,521.50L807.0,520.88M810.0,520.12L812.5,519.50L815.0,518.88M818.0,518.12L820.5,517.50L823.0,516.56M826.0,515.44L828.5,514.50L831.0,513.56M834.0,512.44L836.5,511.50L839.0,510.56M842.0,509.44L844.5,508.50L847.0,507.56M850.0,506.44L852.5,505.50L855.0,504.88M858.0,504.12L860.5,503.50L863.0,502.88M866.0,502.12L868.5,501.50L871.0,501.19M874.0,500.81L876.5,500.50L879.0,500.50M882.0,500.50L884.5,500.50L887.0,500.50M890.0,500.50L892.5,500.50L895.0,501.12M898.0,501.88L900.5,502.50L903.0,502.81M906.0,503.19L908.5,503.50L911.0,503.81M914.0,504.19L916.5,504.50L919.0,505.12M922.0,505.88L924.5,506.50L927.0,506.81M930.0,507.19L932.5,507.50L935.0,507.81M938.0,508.19L940.5,508.50L943.0,508.81M946.0,509.19L948.5,509.50L951.0,509.81M954.0,510.19L956.5,510.50L959.0,510.81M962.0,511.19L964.5,511.50L967.0,511.81M970.0,512.19L972.5,512.50L975.0,512.50M978.0,512.50L980.5,512.50L983.0,512.81M986.0,513.19L988.5,513.50L991.0,513.50M994.0,513.50L996.5,513.50L999.0,513.50M1002.0,513.50L1004.5,513.50L1007.0,513.19M1010.0,512.81L1012.5,512.50L1015.0,512.19M1018.0,511.81L1020.5,511.50L1023.0,510.88M1026.0,510.12L1028.5,509.50L1031.0,508.56M1034.0,507.44L1036.5,506.50L1039.0,505.88M1042.0,505.12L1044.5,504.50L1047.0,503.56M1050.0,502.44L1052.5,501.50L1055.0,501.19M1058.0,500.81L1060.5,500.50L1063.0,499.88M1066.0,499.12L1068.5,498.50L1071.0,498.19M1074.0,497.81L1076.5,497.50L1079.0,497.19M1082.0,496.81L1084.5,496.50L1087.0,496.19M1090.0,495.81L1092.5,495.50L1095.0,495.19M1098.0,494.81L1100.5,494.50L1103.0,494.19M1106.0,493.81L1108.5,493.50L1111.0,493.50M1114.0,493.50L1116.5,493.50L1119.0,493.19M1122.0,492.81L1124.5,492.50L1127.0,492.50M1130.0,492.50L1132.5,492.50L1135.0,492.81M1138.0,493.19L1140.5,493.50L1143.0,494.12M1146.0,494.88L1148.5,495.50L1151.0,496.44M1154.0,497.56L1156.5,498.50L1159.0,499.75M1162.0,501.25L1164.5,502.50L1167.0,504.06M1170.0,505.94L1173.0,507.50" fill="none" stroke="#FF0000" stroke-width="1"/>
</g>
<g clip-path="url(#crsi)" shape-rendering="crispEdges">
<line x1="5" y1="597.5" x2="1190" y2="597.5" stroke="#c0c0c0" stroke-width="1" stroke-dasharray="3 3"/>
<line x1="5" y1="637.5" x2="1190" y2="637.5" stroke="#c0c0c0" stroke-width="1" stroke-dasharray="3 3"/>
<polyline points="4.5,619.5 12.5,626.5 20.5,623.5 28.5,620.5 36.5,617.5 44.5,616.5 52.5,627.5 60.5,633.5 68.5,633.5 76.5,629.5 84.5,632.5 92.5,625.5 100.5,634.5 108.5,626.5 116.5,626.5 124.5,628.5 132.5,624.5 140.5,626.5 148.5,625.5 156.5,621.5 164.5,621.5 172.5,624.5 180.5,626.5 188.5,625.5 196.5,633.5 204.5,627.5 212.5,626.5 220.5,624.5 228.5,621.5 236.5,620.5 244.5,614.5 252.5,606.5 260.5,608.5 268.5,606.5 276.5,609.5 284.5,610.5 292.5,606.5 300.5,603.5 308.5,600.5 316.5,603.5 324.5,603.5 332.5,606.5 340.5,607.5 348.5,605.5 356.5,598.5 364.5,597.5 372.5,594.5 380.5,594.5 388.5,603.5 396.5,602.5 404.5,599.5 412.5,598.5 420.5,603.5 428.5,602.5 436.5,608.5 444.5,611.5 452.5,625.5 460.5,624.5 468.5,620.5 476.5,621.5 484.5,619.5 492.5,618.5 500.5,629.5 508.5,621.5 516.5,622.5 524.5,619.5 532.5,615.5 540.5,619.5 548.5,615.5 556.5,617.5 564.5,617.5 572.5,620.5 580.5,617.5 588.5,621.5 596.5,623.5 604.5,624.5 612.5,624.5 620.5,628.5 628.5,633.5 636.5,636.5 644.5,639.5 652.5,641.5 660.5,625.5 668.5,627.5 676.5,623.5 684.5,628.5 692.5,622.5 700.5,615.5 708.5,613.5 716.5,613.5 724.5,614.5 732.5,614.5 740.5,615.5 748.5,619.5 756.5,613.5 764.5,614.5 772.5,620.5 780.5,613.5 788.5,618.5 796.5,609.5 804.5,604.5 812.5,606.5 820.5,606.5 828.5,603.5 836.5,603.5 844.5,603.5 852.5,613.5 860.5,612.5 868.5,611.5 876.5,615.5 884.5,614.5 892.5,626.5 900.5,614.5 908.5,610.5 916.5,612.5 924.5,613.5 932.5,614.5 940.5,615.5 948.5,618.5 956.5,621.5 964.5,618.5 972.5,618.5 980.5,612.5 988.5,606.5 996.5,609.5 1004.5,604.5 1012.5,603.5 1020.5,604.5 1028.5,605.5 1036.5,600.5 1044.5,612.5 1052.5,608.5 1060.5,606.5 1068.5,606.5 1076.5,608.5 1084.5,604.5 1092.5,601.5 1100.5,602.5 1108.5,604.5 1116.5,610.5 1124.5,607.5 1132.5,612.5 1140.5,621.5 1148.5,629.5 1156.5,634.5 1164.5,630.5 1172.5,632.5" fill="none" stroke="#1E90FF" stroke-width="1"/>
</g>
<g shape-rendering="crispEdges">
<rect x="1192" y="32" width="2" height="1" fill="#000"/>
<rect x="1192" y="65" width="2" height="1" fill="#000"/>
<rect x="1192" y="98" width="2" height="1" fill="#000"/>
<rect x="1192" y="131" width="2" height="1" fill="#000"/>
<rect x="1192" y="164" width="2" height="1" fill="#000"/>
<rect x="1192" y="197" width="2" height="1" fill="#000"/>
<rect x="1192" y="230" width="2" height="1" fill="#000"/>
<rect x="1192" y="262" width="2" height="1" fill="#000"/>
<rect x="1192" y="296" width="2" height="1" fill="#000"/>
<rect x="1192" y="329" width="2" height="1" fill="#000"/>
<rect x="1192" y="362" width="2" height="1" fill="#000"/>
<rect x="1192" y="395" width="2" height="1" fill="#000"/>
<rect x="1192" y="428" width="2" height="1" fill="#000"/>
<rect x="1192" y="461" width="2" height="1" fill="#000"/>
</g>
<text x="1197" y="36" fill="#000" stroke="#000" stroke-width="0.25" font-family="Liberation Sans, sans-serif" font-size="9.6" textLength="32" lengthAdjust="spacingAndGlyphs">111.040</text>
<text x="1197" y="69" fill="#000" stroke="#000" stroke-width="0.25" font-family="Liberation Sans, sans-serif" font-size="9.6" textLength="32" lengthAdjust="spacingAndGlyphs">109.640</text>
<text x="1197" y="102" fill="#000" stroke="#000" stroke-width="0.25" font-family="Liberation Sans, sans-serif" font-size="9.6" textLength="32" lengthAdjust="spacingAndGlyphs">108.200</text>
<text x="1197" y="135" fill="#000" stroke="#000" stroke-width="0.25" font-family="Liberation Sans, sans-serif" font-size="9.6" textLength="32" lengthAdjust="spacingAndGlyphs">106.800</text>
<text x="1197" y="168" fill="#000" stroke="#000" stroke-width="0.25" font-family="Liberation Sans, sans-serif" font-size="9.6" textLength="32" lengthAdjust="spacingAndGlyphs">105.360</text>
<text x="1197" y="201" fill="#000" stroke="#000" stroke-width="0.25" font-family="Liberation Sans, sans-serif" font-size="9.6" textLength="32" lengthAdjust="spacingAndGlyphs">103.920</text>
<text x="1197" y="266" fill="#000" stroke="#000" stroke-width="0.25" font-family="Liberation Sans, sans-serif" font-size="9.6" textLength="32" lengthAdjust="spacingAndGlyphs">101.080</text>
<text x="1197" y="300" fill="#000" stroke="#000" stroke-width="0.25" font-family="Liberation Sans, sans-serif" font-size="9.6" textLength="28" lengthAdjust="spacingAndGlyphs">99.680</text>
<text x="1197" y="333" fill="#000" stroke="#000" stroke-width="0.25" font-family="Liberation Sans, sans-serif" font-size="9.6" textLength="28" lengthAdjust="spacingAndGlyphs">98.240</text>
<text x="1197" y="366" fill="#000" stroke="#000" stroke-width="0.25" font-family="Liberation Sans, sans-serif" font-size="9.6" textLength="28" lengthAdjust="spacingAndGlyphs">96.800</text>
<text x="1197" y="399" fill="#000" stroke="#000" stroke-width="0.25" font-family="Liberation Sans, sans-serif" font-size="9.6" textLength="28" lengthAdjust="spacingAndGlyphs">95.400</text>
<text x="1197" y="432" fill="#000" stroke="#000" stroke-width="0.25" font-family="Liberation Sans, sans-serif" font-size="9.6" textLength="28" lengthAdjust="spacingAndGlyphs">93.960</text>
<text x="1197" y="465" fill="#000" stroke="#000" stroke-width="0.25" font-family="Liberation Sans, sans-serif" font-size="9.6" textLength="28" lengthAdjust="spacingAndGlyphs">92.560</text>
<rect x="1194" y="4" width="36" height="11" fill="#FF0000" shape-rendering="crispEdges"/>
<text x="1198" y="13" fill="#fff" stroke="#fff" stroke-width="0.25" font-family="Liberation Sans, sans-serif" font-size="9.6" textLength="32" lengthAdjust="spacingAndGlyphs">112.000</text>
<rect x="1194" y="97" width="36" height="11" fill="#FF0000" shape-rendering="crispEdges"/>
<text x="1198" y="106" fill="#fff" stroke="#fff" stroke-width="0.25" font-family="Liberation Sans, sans-serif" font-size="9.6" textLength="32" lengthAdjust="spacingAndGlyphs">108.000</text>
<rect x="1194" y="201" width="36" height="11" fill="#00C800" shape-rendering="crispEdges"/>
<text x="1198" y="210" fill="#fff" stroke="#fff" stroke-width="0.25" font-family="Liberation Sans, sans-serif" font-size="9.6" textLength="32" lengthAdjust="spacingAndGlyphs">103.500</text>
<rect x="1194" y="223" width="36" height="11" fill="#000" shape-rendering="crispEdges"/>
<text x="1198" y="232" fill="#fff" stroke="#fff" stroke-width="0.25" font-family="Liberation Sans, sans-serif" font-size="9.6" textLength="32" lengthAdjust="spacingAndGlyphs">102.617</text>
<rect x="1194" y="282" width="36" height="11" fill="#4058E0" shape-rendering="crispEdges"/>
<text x="1198" y="291" fill="#fff" stroke="#fff" stroke-width="0.25" font-family="Liberation Sans, sans-serif" font-size="9.6" textLength="32" lengthAdjust="spacingAndGlyphs">100.000</text>
<rect x="1194" y="352" width="35" height="11" fill="#2000FF" shape-rendering="crispEdges"/>
<text x="1198" y="361" fill="#fff" stroke="#fff" stroke-width="0.25" font-family="Liberation Sans, sans-serif" font-size="9.6" textLength="27" lengthAdjust="spacingAndGlyphs">97.000</text>
<g shape-rendering="crispEdges">
<rect x="1192" y="468" width="1" height="1" fill="#000"/>
<rect x="1192" y="522" width="1" height="1" fill="#000"/>
<rect x="1192" y="563" width="1" height="1" fill="#000"/>
<rect x="1192" y="568" width="1" height="1" fill="#000"/>
<rect x="1192" y="667" width="1" height="1" fill="#000"/>
</g>
<text x="1195" y="477" fill="#000" stroke="#000" stroke-width="0.25" font-family="Liberation Sans, sans-serif" font-size="9.6" textLength="23" lengthAdjust="spacingAndGlyphs">2.515</text>
<text x="1195" y="526" fill="#000" stroke="#000" stroke-width="0.25" font-family="Liberation Sans, sans-serif" font-size="9.6" textLength="18" lengthAdjust="spacingAndGlyphs">0.00</text>
<text x="1195" y="561" fill="#000" stroke="#000" stroke-width="0.25" font-family="Liberation Sans, sans-serif" font-size="9.6" textLength="30.5" lengthAdjust="spacingAndGlyphs">-1.9308</text>
<text x="1195" y="577" fill="#000" stroke="#000" stroke-width="0.25" font-family="Liberation Sans, sans-serif" font-size="9.6" textLength="14.5" lengthAdjust="spacingAndGlyphs">100</text>
<text x="1193.5" y="601" fill="#000" stroke="#000" stroke-width="0.25" font-family="Liberation Sans, sans-serif" font-size="9.6" textLength="10.5" lengthAdjust="spacingAndGlyphs">70</text>
<text x="1193.5" y="641" fill="#000" stroke="#000" stroke-width="0.25" font-family="Liberation Sans, sans-serif" font-size="9.6" textLength="10.5" lengthAdjust="spacingAndGlyphs">30</text>
<text x="1195" y="665" fill="#000" stroke="#000" stroke-width="0.25" font-family="Liberation Sans, sans-serif" font-size="9.6" textLength="5" lengthAdjust="spacingAndGlyphs">0</text>
<path d="M6.5,9.5 L14.5,9.5 L10.5,14.5 Z" fill="#000"/>
<text x="19" y="15" fill="#000" stroke="#000" stroke-width="0.25" font-family="Liberation Sans, sans-serif" font-size="9.6" textLength="43" lengthAdjust="spacingAndGlyphs">USOil-,H4</text>
<text x="69" y="15" fill="#000" stroke="#000" stroke-width="0.25" font-family="Liberation Sans, sans-serif" font-size="9.6" textLength="32" lengthAdjust="spacingAndGlyphs">103.014</text>
<text x="105" y="15" fill="#000" stroke="#000" stroke-width="0.25" font-family="Liberation Sans, sans-serif" font-size="9.6" textLength="32" lengthAdjust="spacingAndGlyphs">103.036</text>
<text x="141" y="15" fill="#000" stroke="#000" stroke-width="0.25" font-family="Liberation Sans, sans-serif" font-size="9.6" textLength="32" lengthAdjust="spacingAndGlyphs">102.410</text>
<text x="177" y="15" fill="#000" stroke="#000" stroke-width="0.25" font-family="Liberation Sans, sans-serif" font-size="9.6" textLength="32" lengthAdjust="spacingAndGlyphs">102.617</text>
<rect x="4" y="9" width="1188" height="2" fill="#FF0000" shape-rendering="crispEdges"/>
<text x="8" y="479" fill="#000" stroke="#000" stroke-width="0.25" font-family="Liberation Sans, sans-serif" font-size="9.6" textLength="131" lengthAdjust="spacingAndGlyphs">MACD(12,26,9) -0.5597 0.7151</text>
<text x="8" y="579" fill="#000" stroke="#000" stroke-width="0.25" font-family="Liberation Sans, sans-serif" font-size="9.6" textLength="68" lengthAdjust="spacingAndGlyphs">RSI(14) 35.5702</text>
<g shape-rendering="crispEdges">
<rect x="4" y="669" width="1" height="3" fill="#000"/>
<rect x="68" y="669" width="1" height="3" fill="#000"/>
<rect x="132" y="669" width="1" height="3" fill="#000"/>
<rect x="196" y="669" width="1" height="3" fill="#000"/>
<rect x="260" y="669" width="1" height="3" fill="#000"/>
<rect x="324" y="669" width="1" height="3" fill="#000"/>
<rect x="388" y="669" width="1" height="3" fill="#000"/>
<rect x="452" y="669" width="1" height="3" fill="#000"/>
<rect x="516" y="669" width="1" height="3" fill="#000"/>
<rect x="580" y="669" width="1" height="3" fill="#000"/>
<rect x="644" y="669" width="1" height="3" fill="#000"/>
<rect x="708" y="669" width="1" height="3" fill="#000"/>
<rect x="772" y="669" width="1" height="3" fill="#000"/>
<rect x="836" y="669" width="1" height="3" fill="#000"/>
<rect x="900" y="669" width="1" height="3" fill="#000"/>
<rect x="964" y="669" width="1" height="3" fill="#000"/>
<rect x="1028" y="669" width="1" height="3" fill="#000"/>
<rect x="1092" y="669" width="1" height="3" fill="#000"/>
<rect x="1156" y="669" width="1" height="3" fill="#000"/>
</g>
<text x="2.5" y="681" fill="#000" stroke="#000" stroke-width="0.25" font-family="Liberation Sans, sans-serif" font-size="9.5" textLength="45.7" lengthAdjust="spacingAndGlyphs">5 Apr 2022</text>
<text x="66.6" y="681" fill="#000" stroke="#000" stroke-width="0.25" font-family="Liberation Sans, sans-serif" font-size="9.5" textLength="48.2" lengthAdjust="spacingAndGlyphs">6 Apr 20:00</text>
<text x="130.6" y="681" fill="#000" stroke="#000" stroke-width="0.25" font-family="Liberation Sans, sans-serif" font-size="9.5" textLength="48.9" lengthAdjust="spacingAndGlyphs">8 Apr 04:00</text>
<text x="194.7" y="681" fill="#000" stroke="#000" stroke-width="0.25" font-family="Liberation Sans, sans-serif" font-size="9.5" textLength="53.5" lengthAdjust="spacingAndGlyphs">11 Apr 08:00</text>
<text x="258.6" y="681" fill="#000" stroke="#000" stroke-width="0.25" font-family="Liberation Sans, sans-serif" font-size="9.5" textLength="53.6" lengthAdjust="spacingAndGlyphs">12 Apr 16:00</text>
<text x="322.6" y="681" fill="#000" stroke="#000" stroke-width="0.25" font-family="Liberation Sans, sans-serif" font-size="9.5" textLength="53.6" lengthAdjust="spacingAndGlyphs">14 Apr 00:00</text>
<text x="386.6" y="681" fill="#000" stroke="#000" stroke-width="0.25" font-family="Liberation Sans, sans-serif" font-size="9.5" textLength="53.6" lengthAdjust="spacingAndGlyphs">18 Apr 04:00</text>
<text x="450.6" y="681" fill="#000" stroke="#000" stroke-width="0.25" font-family="Liberation Sans, sans-serif" font-size="9.5" textLength="53.6" lengthAdjust="spacingAndGlyphs">19 Apr 12:00</text>
<text x="514.6" y="681" fill="#000" stroke="#000" stroke-width="0.25" font-family="Liberation Sans, sans-serif" font-size="9.5" textLength="53.6" lengthAdjust="spacingAndGlyphs">20 Apr 20:00</text>
<text x="578.6" y="681" fill="#000" stroke="#000" stroke-width="0.25" font-family="Liberation Sans, sans-serif" font-size="9.5" textLength="53.7" lengthAdjust="spacingAndGlyphs">22 Apr 04:00</text>
<text x="642.1" y="681" fill="#000" stroke="#000" stroke-width="0.25" font-family="Liberation Sans, sans-serif" font-size="9.5" textLength="54.0" lengthAdjust="spacingAndGlyphs">25 Apr 08:00</text>
<text x="706.4" y="681" fill="#000" stroke="#000" stroke-width="0.25" font-family="Liberation Sans, sans-serif" font-size="9.5" textLength="53.5" lengthAdjust="spacingAndGlyphs">26 Apr 16:00</text>
<text x="770.5" y="681" fill="#000" stroke="#000" stroke-width="0.25" font-family="Liberation Sans, sans-serif" font-size="9.5" textLength="53.7" lengthAdjust="spacingAndGlyphs">28 Apr 00:00</text>
<text x="834.3" y="681" fill="#000" stroke="#000" stroke-width="0.25" font-family="Liberation Sans, sans-serif" font-size="9.5" textLength="54.0" lengthAdjust="spacingAndGlyphs">29 Apr 08:00</text>
<text x="897.9" y="681" fill="#000" stroke="#000" stroke-width="0.25" font-family="Liberation Sans, sans-serif" font-size="9.5" textLength="53.7" lengthAdjust="spacingAndGlyphs">2 May 12:00</text>
<text x="962.0" y="681" fill="#000" stroke="#000" stroke-width="0.25" font-family="Liberation Sans, sans-serif" font-size="9.5" textLength="53.2" lengthAdjust="spacingAndGlyphs">3 May 20:00</text>
<text x="1025.9" y="681" fill="#000" stroke="#000" stroke-width="0.25" font-family="Liberation Sans, sans-serif" font-size="9.5" textLength="53.6" lengthAdjust="spacingAndGlyphs">5 May 04:00</text>
<text x="1090.0" y="681" fill="#000" stroke="#000" stroke-width="0.25" font-family="Liberation Sans, sans-serif" font-size="9.5" textLength="53.2" lengthAdjust="spacingAndGlyphs">6 May 12:00</text>
<text x="1154.4" y="681" fill="#000" stroke="#000" stroke-width="0.25" font-family="Liberation Sans, sans-serif" font-size="9.5" textLength="52.9" lengthAdjust="spacingAndGlyphs">9 May 16:00</text>
<text y="427" fill="#FF0000" font-family="Liberation Sans, Noto Sans CJK SC, sans-serif"><tspan x="806" font-size="34.5" letter-spacing="-0.2" font-family="Noto Sans CJK SC, sans-serif">多空转折点</tspan><tspan x="977.4" font-size="37" textLength="87.8" lengthAdjust="spacingAndGlyphs">103.5</tspan></text>
</svg></body></html>
